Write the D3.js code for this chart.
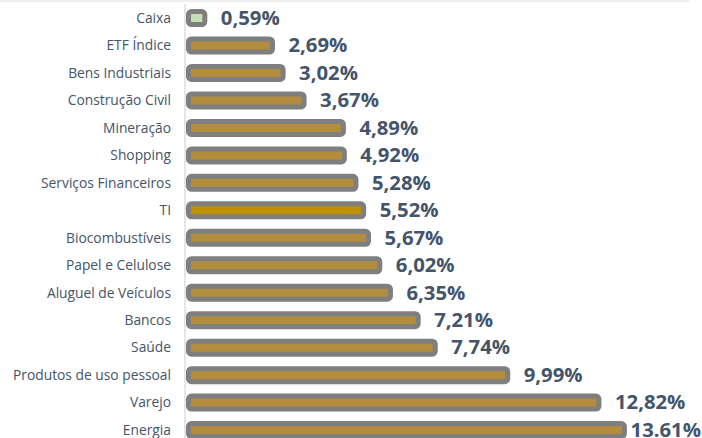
<!DOCTYPE html>
<html><head><meta charset="utf-8">
<script src="https://cdn.jsdelivr.net/npm/d3@7"></script>
<style>html,body{margin:0;padding:0;background:#fff;}svg{display:block;}</style>
</head><body>
<svg id="c" width="702" height="438"></svg>
<script>
const categories = ["Caixa","ETF Índice","Bens Industriais","Construção Civil","Mineração","Shopping","Serviços Financeiros","TI","Biocombustíveis","Papel e Celulose","Aluguel de Veículos","Bancos","Saúde","Produtos de uso pessoal","Varejo","Energia"];
const values = [0.59,2.69,3.02,3.67,4.89,4.92,5.28,5.52,5.67,6.02,6.35,7.21,7.74,9.99,12.82,13.61];
const valueLabels = ["0,59%","2,69%","3,02%","3,67%","4,89%","4,92%","5,28%","5,52%","5,67%","6,02%","6,35%","7,21%","7,74%","9,99%","12,82%","13.61%"];
const fills = ["#c5e0b4","#b38c3d","#b38c3d","#b38c3d","#b38c3d","#b38c3d","#b38c3d","#bf9000","#b38c3d","#b38c3d","#b38c3d","#b38c3d","#b38c3d","#b38c3d","#b38c3d","#b38c3d"];

const W = 702, H = 438;
const svg = d3.select("#c");
const data = categories.map((c,i)=>({c, v:values[i], l:valueLabels[i], f:fills[i]}));

// top shadow line
svg.append("line").attr("x1",0).attr("x2",690).attr("y1",1).attr("y2",1)
  .attr("stroke","#efefef").attr("stroke-width",2);

const x = d3.scaleLinear().domain([0,13.61]).range([185.8,624.4]);
const y = d3.scaleBand().domain(categories).range([4.3,443.8]).paddingInner(0).paddingOuter(0);
const cy = c => y(c) + y.bandwidth()/2;

// axis line
svg.append("line").attr("x1",185).attr("x2",185).attr("y1",4).attr("y2",H)
  .attr("stroke","#d9d9d9").attr("stroke-width",1.3);

const barH = 13, sw = 5;
svg.append("g").selectAll("rect").data(data).join("rect")
  .attr("x", x(0)+2.7)
  .attr("y", d=>cy(d.c)-barH/2)
  .attr("width", d=>x(d.v)-x(0)-2.7)
  .attr("height", barH)
  .attr("rx",3).attr("ry",3)
  .attr("fill", d=>d.f)
  .attr("stroke","#7f7f7f").attr("stroke-width",sw);

// category labels
svg.append("g").selectAll("text").data(data).join("text")
  .attr("x",171).attr("y",d=>cy(d.c)).attr("dy","0.35em")
  .attr("text-anchor","end")
  .attr("font-family","'Open Sans', sans-serif").attr("font-size",13.8)
  .attr("fill","#44546a").text(d=>d.c);

// value labels
const vl = svg.append("g").selectAll("text").data(data).join("text")
  .attr("y",d=>cy(d.c)+6.8)
  .attr("font-family","'Open Sans', sans-serif").attr("font-weight","bold").attr("font-size",20.3)
  .attr("fill","#44546a").text(d=>d.l);
vl.each(function(d){
  const tw = this.getComputedTextLength();
  const px = Math.min(x(d.v)+2.5+13.5, W-1-tw);
  d3.select(this).attr("x",px);
});
</script>
</body></html>
